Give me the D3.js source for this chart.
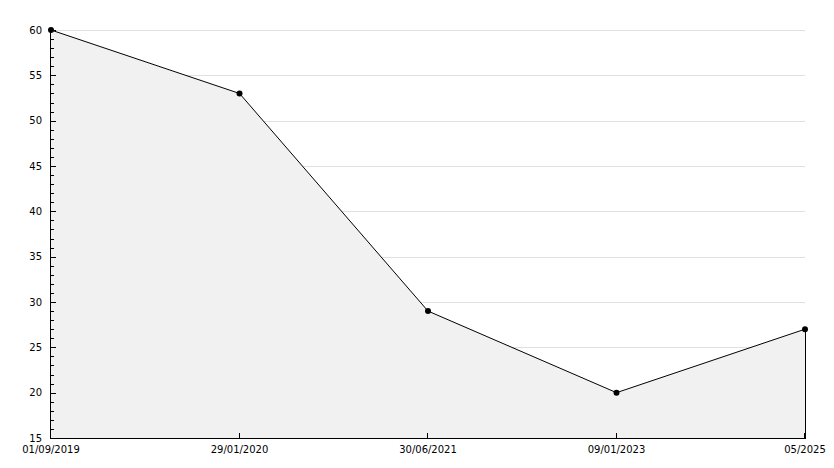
<!DOCTYPE html>
<html><head><meta charset="utf-8">
<script src="https://cdn.jsdelivr.net/npm/d3@7"></script>
<style>body{margin:0;background:#fff}svg{display:block}text{font-family:"DejaVu Sans",sans-serif;font-size:10px;fill:#000}</style>
</head><body><svg width="834" height="468"></svg>
<script>
const categories = ["01/09/2019","29/01/2020","30/06/2021","09/01/2023","05/2025"];
const values = [60,53,29,20,27];
const yTicks = [15,20,25,30,35,40,45,50,55,60];

const svg = d3.select("svg");
const pLeft = 51, pRight = 805, pTop = 30, pBottom = 438;
const x = d3.scalePoint().domain(categories).range([pLeft, pRight]);
const y = d3.scaleLinear().domain([15, 60]).range([pBottom, pTop]);
const data = categories.map((c,i)=>({c, v: values[i]}));

// grid
svg.append("g").selectAll("line").data(yTicks.slice(1)).join("line")
  .attr("x1", pLeft).attr("x2", pRight)
  .attr("y1", d=>Math.round(y(d))+0.5).attr("y2", d=>Math.round(y(d))+0.5)
  .attr("stroke", "#e0e0e0");

// area
svg.append("path").datum(data)
  .attr("d", d3.area().x(d=>x(d.c)).y0(pBottom).y1(d=>y(d.v)))
  .attr("fill", "#f1f1f1");
svg.append("line").attr("x1", pRight+0.5).attr("x2", pRight+0.5)
  .attr("y1", y(values[values.length-1])).attr("y2", pBottom).attr("stroke", "#000");

// line
svg.append("path").datum(data)
  .attr("d", d3.line().x(d=>x(d.c)).y(d=>y(d.v)))
  .attr("fill", "none").attr("stroke", "#000").attr("stroke-width", 1);

// y axis
const yg = svg.append("g");
yg.append("line").attr("x1", pLeft-0.5).attr("x2", pLeft-0.5).attr("y1", pTop).attr("y2", pBottom+0.5).attr("stroke","#000");
const minor = d3.range(15, 60.001, 1);
yg.selectAll("line.t").data(minor).join("line").attr("class","t")
  .attr("x1", pLeft).attr("x2", d=> d%5===0 ? pLeft+5 : pLeft+3)
  .attr("y1", d=>Math.round(y(d))+0.5).attr("y2", d=>Math.round(y(d))+0.5)
  .attr("stroke","#000");
yg.selectAll("text").data(yTicks).join("text")
  .attr("x", pLeft-9).attr("y", d=>y(d)).attr("dy","0.35em")
  .attr("text-anchor","end").text(d=>d);

// x axis
const xg = svg.append("g");
xg.append("line").attr("x1", pLeft-1).attr("x2", pRight+1).attr("y1", pBottom+0.5).attr("y2", pBottom+0.5).attr("stroke","#000");
xg.selectAll("line.t").data(categories).join("line").attr("class","t")
  .attr("x1", d=>Math.round(x(d))-0.5).attr("x2", d=>Math.round(x(d))-0.5)
  .attr("y1", pBottom).attr("y2", pBottom-5).attr("stroke","#000");
xg.selectAll("text").data(categories).join("text")
  .attr("x", d=>x(d)).attr("y", pBottom+11).attr("dy","0.35em")
  .attr("text-anchor","middle").text(d=>d);

// markers
svg.append("g").selectAll("circle").data(data).join("circle")
  .attr("cx", d=>x(d.c)).attr("cy", d=>y(d.v)).attr("r", 3).attr("fill","#000");
</script></body></html>
